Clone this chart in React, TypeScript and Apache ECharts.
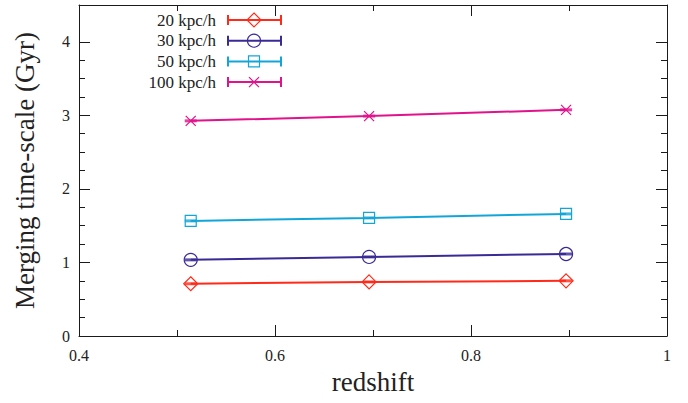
import React, { useEffect, useRef } from "react";
import * as echarts from "echarts";

const redshift = [0.514, 0.696, 0.897];
const t20 = [0.71, 0.735, 0.75];
const t30 = [1.035, 1.075, 1.115];
const t50 = [1.565, 1.605, 1.66];
const t100 = [2.925, 2.99, 3.075];
const seriesNames = ["20 kpc/h", "30 kpc/h", "50 kpc/h", "100 kpc/h"];
const seriesValues = [t20, t30, t50, t100];
const seriesColors = ["#ff2a1a", "#3a2a96", "#12a6d8", "#e0128c"];
const seriesSymbols = ["diamond", "circle", "rect", "path://M0,0L10,10M10,0L0,10"];
const seriesSymbolSizes = [14, 13, 11, 10];

const xMajor = [0.4, 0.6, 0.8, 1];
const xMinor = [0.5, 0.7, 0.9];
const yMajor = [0, 1, 2, 3, 4];
const yMinor = [0.25, 0.5, 0.75, 1.25, 1.5, 1.75, 2.25, 2.5, 2.75, 3.25, 3.5, 3.75];

const FONT = "Liberation Serif";
const INK = "#1a1a1a";

export default function App() {
  const ref = useRef<HTMLDivElement>(null);

  useEffect(() => {
    if (!ref.current) return;
    const chart = echarts.init(ref.current, undefined, { renderer: "svg" });

    const baseX = (pos: string, ticks: number[], len: number, showLine: boolean, showLabel: boolean, extra: any = {}) => ({
      type: "value",
      position: pos,
      min: 0.4,
      max: 1,
      axisLine: { show: showLine, onZero: false, lineStyle: { color: INK, width: 1 } },
      axisTick: { show: true, inside: true, length: len, customValues: ticks, lineStyle: { color: INK, width: 1 } },
      axisLabel: {
        show: showLabel,
        customValues: ticks,
        color: "#222",
        fontFamily: FONT,
        fontSize: 16,
        margin: 11,
      },
      splitLine: { show: false },
      ...extra,
    });
    const baseY = (pos: string, ticks: number[], len: number, showLine: boolean, showLabel: boolean, extra: any = {}) => ({
      type: "value",
      position: pos,
      min: 0,
      max: 4.5,
      axisLine: { show: showLine, onZero: false, lineStyle: { color: INK, width: 1 } },
      axisTick: { show: true, inside: true, length: len, customValues: ticks, lineStyle: { color: INK, width: 1 } },
      axisLabel: {
        show: showLabel,
        customValues: ticks,
        color: "#222",
        fontFamily: FONT,
        fontSize: 16,
        margin: 9,
      },
      splitLine: { show: false },
      ...extra,
    });

    const series: any[] = [];
    seriesNames.forEach((name, i) => {
      const data = redshift.map((x, j) => [x, seriesValues[i][j]]);
      series.push({
        type: "line",
        name,
        data,
        xAxisIndex: 0,
        yAxisIndex: 0,
        symbol: seriesSymbols[i],
        symbolSize: seriesSymbolSizes[i],
        showAllSymbol: true,
        lineStyle: { color: seriesColors[i], width: 2 },
        itemStyle: { color: "rgba(0,0,0,0)", borderColor: seriesColors[i], borderWidth: 1.2 },
        z: 3,
      });
      series.push({
        type: "scatter",
        name: name + " bar",
        data,
        xAxisIndex: 0,
        yAxisIndex: 0,
        symbol: "rect",
        symbolSize: [12, 3],
        itemStyle: { color: seriesColors[i] },
        z: 2,
      });
    });

    const graphics: any[] = [];
    seriesNames.forEach((name, i) => {
      const y = 20 + i * 20.7;
      const c = seriesColors[i];
      graphics.push({
        type: "text",
        x: 216,
        y,
        style: { text: name, fill: "#222", font: `17px "${FONT}"`, textAlign: "right", textVerticalAlign: "middle" },
      });
      graphics.push({ type: "line", shape: { x1: 228, y1: y, x2: 281, y2: y }, style: { stroke: c, lineWidth: 2 } });
      graphics.push({ type: "line", shape: { x1: 228, y1: y - 5, x2: 228, y2: y + 5 }, style: { stroke: c, lineWidth: 2 } });
      graphics.push({ type: "line", shape: { x1: 281, y1: y - 5, x2: 281, y2: y + 5 }, style: { stroke: c, lineWidth: 2 } });
      const mx = 254;
      if (i === 0) {
        graphics.push({
          type: "polygon",
          shape: { points: [[mx, y - 7], [mx + 7, y], [mx, y + 7], [mx - 7, y]] },
          style: { fill: "none", stroke: c, lineWidth: 1.2 },
        });
      } else if (i === 1) {
        graphics.push({ type: "circle", shape: { cx: mx, cy: y, r: 6.5 }, style: { fill: "none", stroke: c, lineWidth: 1.2 } });
      } else if (i === 2) {
        graphics.push({ type: "rect", shape: { x: mx - 5.5, y: y - 5.5, width: 11, height: 11 }, style: { fill: "none", stroke: c, lineWidth: 1.2 } });
      } else {
        graphics.push({ type: "line", shape: { x1: mx - 5, y1: y - 5, x2: mx + 5, y2: y + 5 }, style: { stroke: c, lineWidth: 1.2 } });
        graphics.push({ type: "line", shape: { x1: mx + 5, y1: y - 5, x2: mx - 5, y2: y + 5 }, style: { stroke: c, lineWidth: 1.2 } });
      }
    });

    chart.setOption({
      animation: false,
      backgroundColor: "#ffffff",
      grid: { left: 79, right: 21, top: 5, bottom: 67, containLabel: false },
      xAxis: [
        baseX("bottom", xMajor, 11, true, true, {
          name: "redshift",
          nameLocation: "middle",
          nameGap: 32,
          nameTextStyle: { fontFamily: FONT, fontSize: 27, color: "#222" },
        }),
        baseX("bottom", xMinor, 6, false, false),
        baseX("top", xMajor, 11, true, false),
        baseX("top", xMinor, 6, false, false),
      ],
      yAxis: [
        baseY("left", yMajor, 11, true, true, {
          name: "Merging time-scale (Gyr)",
          nameLocation: "middle",
          nameGap: 41,
          nameTextStyle: { fontFamily: FONT, fontSize: 27, color: "#222" },
        }),
        baseY("left", yMinor, 6, false, false),
        baseY("right", yMajor, 11, true, false),
        baseY("right", yMinor, 6, false, false),
      ],
      graphic: graphics,
      series,
    });

    return () => chart.dispose();
  }, []);

  return <div ref={ref} style={{ width: 688, height: 403, position: "absolute", left: 0, top: 0 }} />;
}
